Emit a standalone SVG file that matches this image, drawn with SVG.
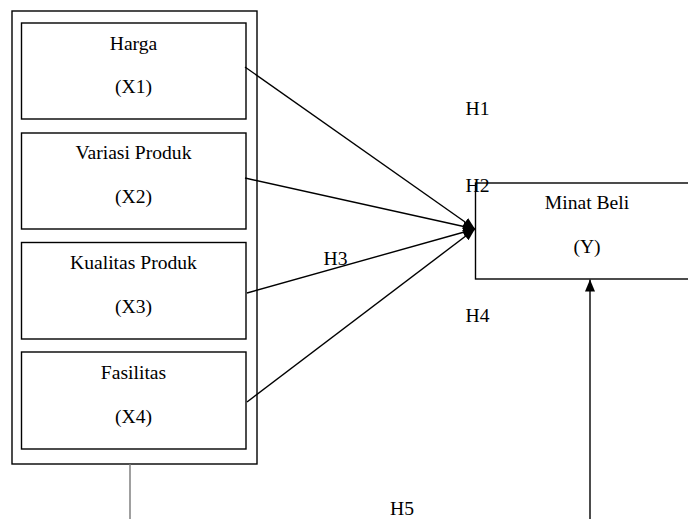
<svg xmlns="http://www.w3.org/2000/svg" width="688" height="519" viewBox="0 0 688 519">
<defs>
<style>
.box{fill:#fff;stroke:#000;stroke-width:1.4}
.t{font-family:"Liberation Serif","Times New Roman",serif;font-size:19.6px;fill:#000}
.c{text-anchor:middle}
.ln{stroke:#000;stroke-width:1.4;fill:none}
</style>
<marker id="ah" markerUnits="userSpaceOnUse" markerWidth="14" markerHeight="12" refX="12" refY="5" orient="auto">
<path d="M0,0 L12,5 L0,10 Z" fill="#000"/>
</marker>
</defs>
<rect width="688" height="519" fill="#fff"/>
<g id="group-x">
<rect class="box" x="12" y="11" width="245" height="453"/>
</g>
<g id="harga">
<rect class="box" x="21.5" y="23" width="224.5" height="96"/>
<text class="t c" x="133.5" y="50">Harga</text>
<text class="t c" x="133.5" y="93">(X1)</text>
</g>
<g id="variasi">
<rect class="box" x="21.5" y="133" width="224.5" height="96"/>
<text class="t c" x="133.5" y="159">Variasi Produk</text>
<text class="t c" x="133.5" y="203">(X2)</text>
</g>
<g id="kualitas">
<rect class="box" x="21.5" y="242.5" width="224.5" height="96.5"/>
<text class="t c" x="133.5" y="268.5">Kualitas Produk</text>
<text class="t c" x="133.5" y="312.5">(X3)</text>
</g>
<g id="fasilitas">
<rect class="box" x="21.5" y="352" width="224.5" height="97"/>
<text class="t c" x="133.5" y="379">Fasilitas</text>
<text class="t c" x="133.5" y="422.5">(X4)</text>
</g>
<g id="minat">
<rect class="box" x="475.5" y="183" width="224" height="96"/>
<text class="t c" x="587" y="209">Minat Beli</text>
<text class="t c" x="587" y="253">(Y)</text>
</g>
<g id="connectors">
<line class="ln" x1="245" y1="67" x2="475" y2="229" marker-end="url(#ah)"/>
<line class="ln" x1="245" y1="178" x2="475" y2="229" marker-end="url(#ah)"/>
<line class="ln" x1="247" y1="293" x2="475" y2="229" marker-end="url(#ah)"/>
<line class="ln" x1="247" y1="402" x2="475" y2="229" marker-end="url(#ah)"/>
<line x1="130" y1="464" x2="130" y2="519" stroke="#777" stroke-width="1.4"/>
<line class="ln" x1="590" y1="519" x2="590" y2="279.5" marker-end="url(#ah)"/>
</g>
<g id="labels">
<text class="t" x="465.5" y="115">H1</text>
<text class="t" x="465.5" y="191.5">H2</text>
<text class="t" x="323.5" y="265">H3</text>
<text class="t" x="465.5" y="322">H4</text>
<text class="t" x="390" y="515">H5</text>
</g>
</svg>
